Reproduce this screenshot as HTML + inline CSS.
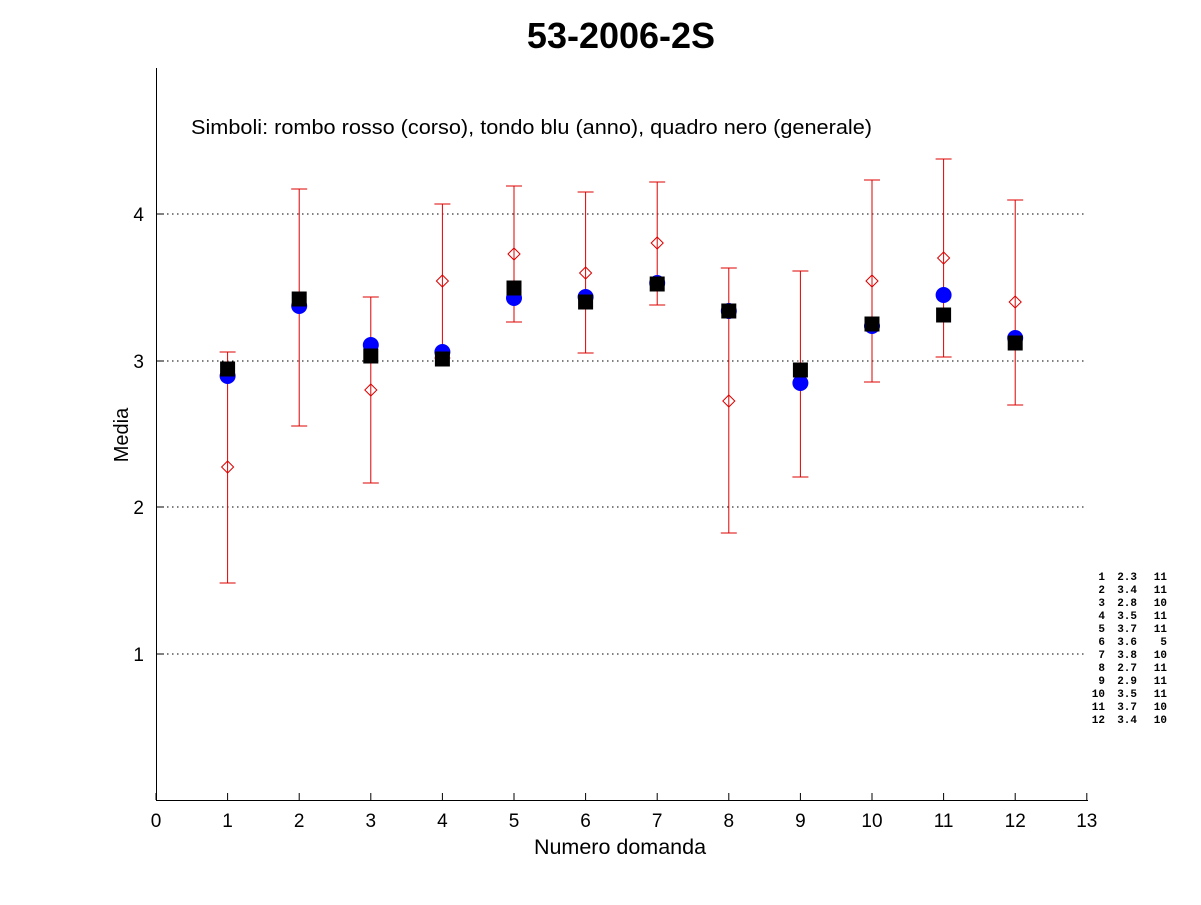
<!DOCTYPE html>
<html><head><meta charset="utf-8"><style>body{margin:0;background:#fff}</style></head><body>
<svg width="1201" height="900" xmlns="http://www.w3.org/2000/svg" font-family="Liberation Sans, sans-serif">
<rect width="1201" height="900" fill="#fff"/>
<text x="621" y="48" font-size="36" font-weight="bold" text-anchor="middle">53-2006-2S</text>
<g stroke="#000" stroke-dasharray="1.5,3.5" stroke-width="1">
<line x1="157" y1="214" x2="1087" y2="214"/><line x1="157" y1="361" x2="1087" y2="361"/>
<line x1="157" y1="507" x2="1087" y2="507"/><line x1="157" y1="654" x2="1087" y2="654"/>
</g>
<g stroke="#000" stroke-width="1" fill="none">
<line x1="156.5" y1="68" x2="156.5" y2="800.5"/><line x1="156" y1="800.5" x2="1088" y2="800.5"/>
</g>
<g id="ticks" stroke="#000"></g>
<text x="191" y="134" font-size="20" textLength="681" lengthAdjust="spacingAndGlyphs">Simboli: rombo rosso (corso), tondo blu (anno), quadro nero (generale)</text>
<text x="128" y="435" font-size="20" text-anchor="middle" transform="rotate(-90 128 435)">Media</text>
<text x="620" y="854" font-size="21.5" text-anchor="middle">Numero domanda</text>
<g id="g"></g>
<g font-family="Liberation Mono, monospace" font-size="11" font-weight="bold" text-anchor="end" id="lst"></g>
<script>
const X=i=>156+i*71.6, ns="http://www.w3.org/2000/svg";
function el(p,t,a,txt){const e=document.createElementNS(ns,t);for(const k in a)e.setAttribute(k,a[k]);if(txt!=null)e.textContent=txt;p.appendChild(e);return e}
const svg=document.querySelector('svg'),tk=document.getElementById('ticks'),g=document.getElementById('g'),lst=document.getElementById('lst');
for(let i=0;i<=13;i++){el(tk,'line',{x1:X(i),x2:X(i),y1:800,y2:793});el(svg,'text',{x:X(i),y:827,'font-size':19,'text-anchor':'middle'},i)}
[[4,214],[3,361],[2,507],[1,654]].forEach(([v,y])=>{el(tk,'line',{x1:157,x2:164,y1:y,y2:y});el(svg,'text',{x:144,y:y+7,'font-size':19,'text-anchor':'end'},v)});
const d=[[467,352,583],[300,189,426],[390,297,483],[281,204,358],[254,186,322],[273,192,353],[243,182,305],[401,268,533],[375,271,477],[281,180,382],[258,159,357],[302,200,405]];
const c=[376,306,345,352,298,297,283,311,383,326,295,338];
const s=[369,299,356,359,288,302,284,311,370,324,315,343];
d.forEach((r,k)=>{const x=X(k+1);
el(g,'line',{x1:x,x2:x,y1:r[1],y2:r[2],stroke:'#d00',"stroke-width":1});
el(g,'line',{x1:x-8,x2:x+8,y1:r[1],y2:r[1],stroke:'#d00'});
el(g,'line',{x1:x-8,x2:x+8,y1:r[2],y2:r[2],stroke:'#d00'});
el(g,'polygon',{points:`${x},${r[0]-6} ${x+6},${r[0]} ${x},${r[0]+6} ${x-6},${r[0]}`,fill:'none',stroke:'#d00'});
});
c.forEach((y,k)=>el(g,'circle',{cx:X(k+1),cy:y,r:8,fill:'#00f'}));
s.forEach((y,k)=>el(g,'rect',{x:X(k+1)-7.5,y:y-7.5,width:15,height:15,fill:'#000'}));
const L=["1 2.3 11","2 3.4 11","3 2.8 10","4 3.5 11","5 3.7 11","6 3.6 5","7 3.8 10","8 2.7 11","9 2.9 11","10 3.5 11","11 3.7 10","12 3.4 10"];
L.forEach((l,i)=>{const p=l.split(' ');const y=580+i*13;
el(lst,'text',{x:1105,y:y},p[0]);el(lst,'text',{x:1137,y:y},p[1]);el(lst,'text',{x:1167,y:y},p[2]);});
</script>
</svg>
</body></html>
